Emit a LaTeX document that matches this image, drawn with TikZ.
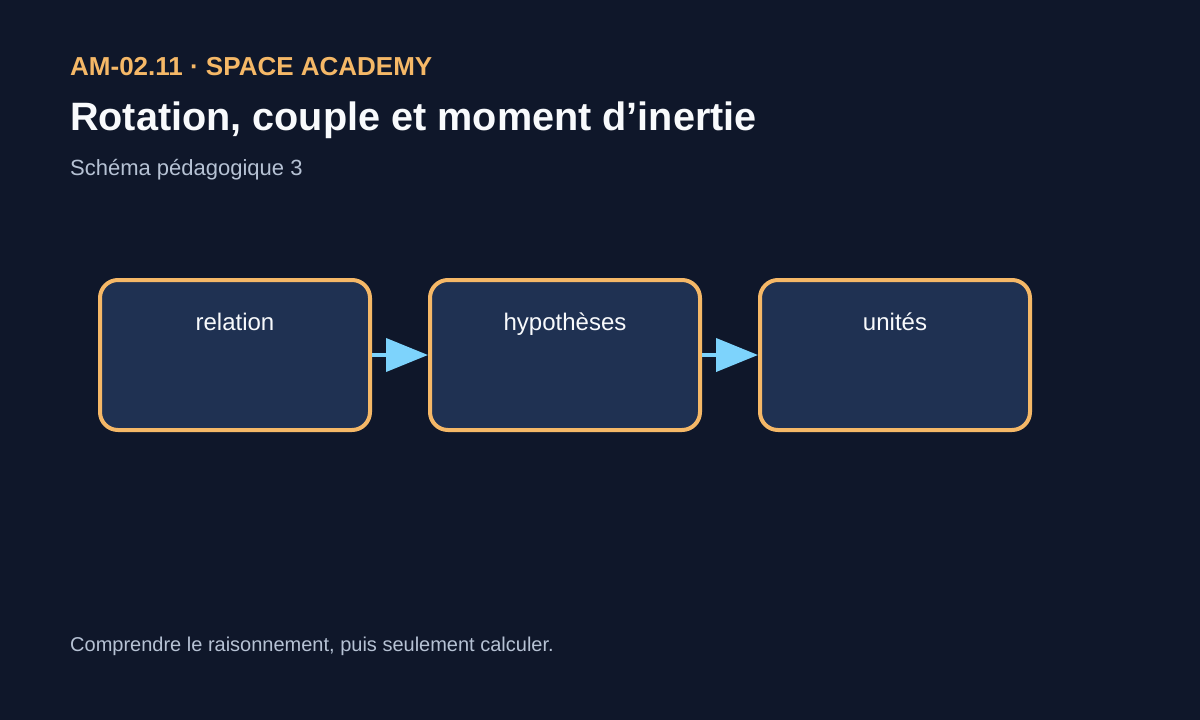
\documentclass[tikz,border=0pt]{standalone}
\usepackage{fontspec}
\setmainfont{Liberation Sans}
\usetikzlibrary{arrows.meta}
\definecolor{bgnavy}{HTML}{0F172A}
\definecolor{boxfill}{HTML}{1F3152}
\definecolor{amber}{HTML}{F5B867}
\definecolor{skyblue}{HTML}{7DD3FC}
\definecolor{greytext}{HTML}{B6C2D4}
\definecolor{titlewhite}{HTML}{F8FAFC}
\begin{document}
\begin{tikzpicture}[x=1pt,y=-1pt,
	stepbox/.style={draw=amber,fill=boxfill,line width=4pt,rounded corners=18pt,
		minimum width=270pt,minimum height=150pt,inner sep=0pt},
	boxlabel/.style={anchor=base,inner sep=0pt,text=titlewhite,font=\fontsize{24}{28}\selectfont},
	flow/.style={draw=skyblue,line width=4pt,-{Triangle[length=42pt,width=33pt]}},
	txt/.style={anchor=base west,inner sep=0pt}]
			\fill [bgnavy] (0,0) rectangle (1200,720);
			\useasboundingbox (0,0) rectangle (1200,720);
			\node [txt,text=amber,font=\bfseries\fontsize{26}{30}\selectfont] (code) at (70,75) {AM-02.11 · SPACE ACADEMY};
			\node [txt,text=titlewhite,font=\bfseries\fontsize{39.6}{48}\selectfont] (title) at (70,130) {Rotation, couple et moment d’inertie};
			\node [txt,text=greytext,font=\fontsize{22}{26}\selectfont] (sub) at (70,175) {Schéma pédagogique 3};
			\node [stepbox] (rel) at (235,355) {};
			\node [stepbox] (hyp) at (565,355) {};
			\node [stepbox] (uni) at (895,355) {};
			\node [boxlabel] at ([yshift=-52pt]rel.north) {relation};
			\node [boxlabel] at ([yshift=-52pt]hyp.north) {hypothèses};
			\node [boxlabel] at ([yshift=-52pt]uni.north) {unités};
			\draw [flow] (rel.east) -- (hyp.west);
			\draw [flow] (hyp.east) -- (uni.west);
			\node [txt,text=greytext,font=\fontsize{20}{24}\selectfont] (foot) at (70,651) {Comprendre le raisonnement, puis seulement calculer.};
			\end{tikzpicture}
\end{document}
